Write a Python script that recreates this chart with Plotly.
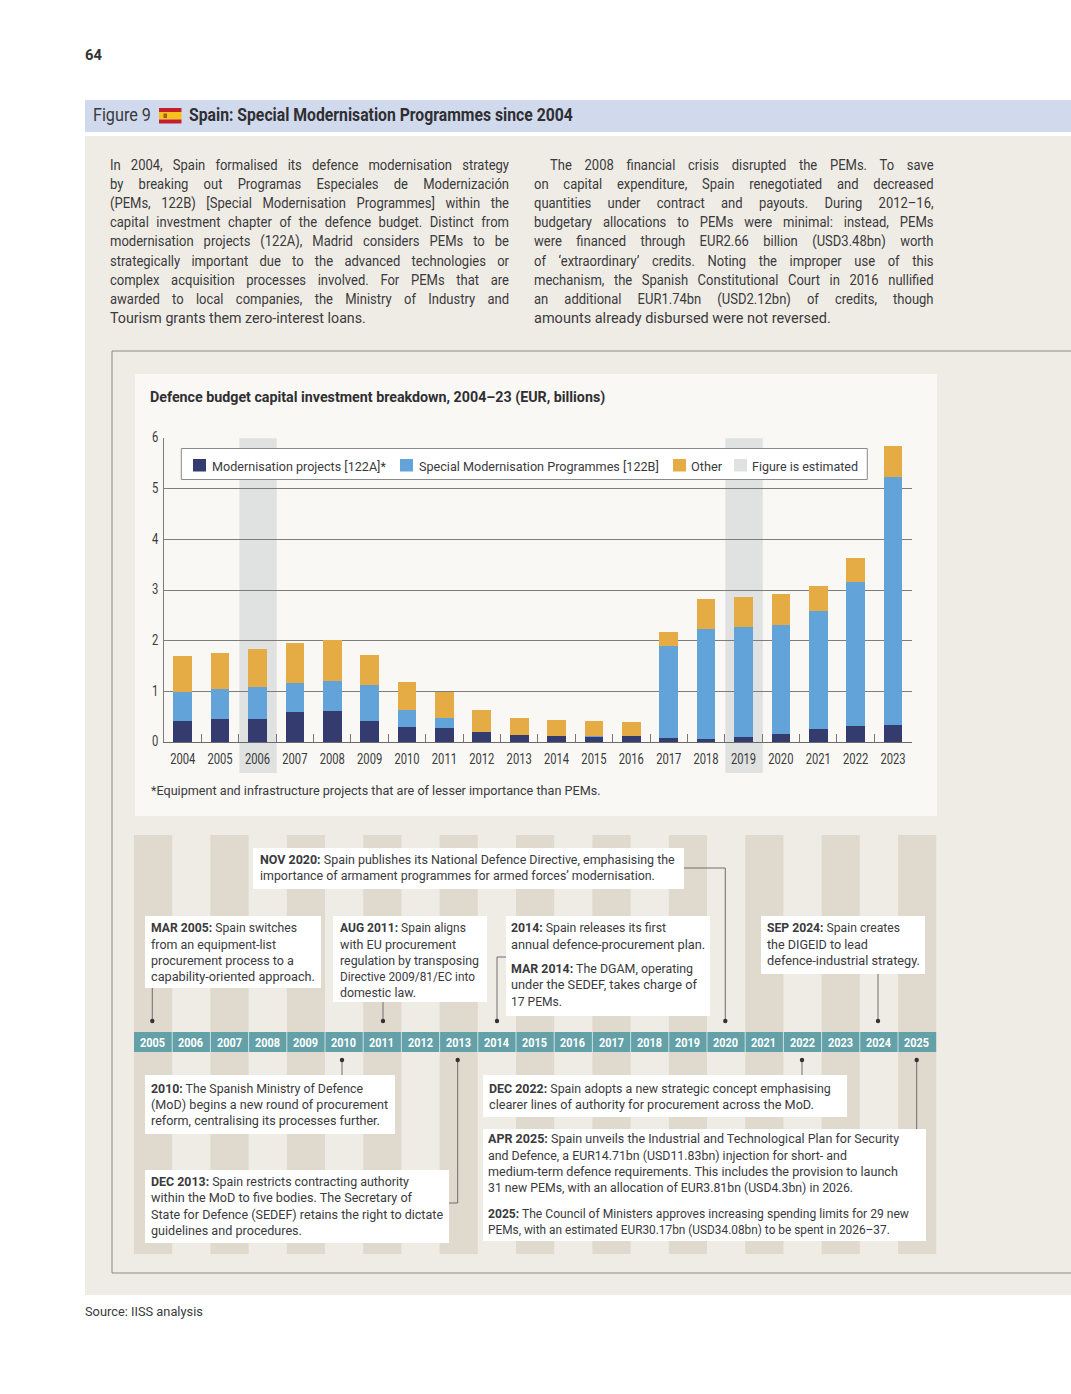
import json
import plotly.graph_objects as go

W, H = 1071, 1394
FONT = "Roboto"
TXT = "#3a3a3c"

# ---- chart data (EUR bn) ----
years = [str(y) for y in range(2004, 2024)]
modernisation = [.42,.46,.46,.60,.62,.42,.30,.28,.20,.14,.125,.105,.125,.085,.065,.105,.165,.26,.32,.34]
special = [.57,.59,.63,.57,.59,.71,.34,.20,.01,.01,.005,.02,.005,1.815,2.175,2.175,2.155,2.33,2.84,4.90]
other = [.71,.71,.75,.79,.81,.59,.55,.52,.43,.33,.31,.295,.27,.28,.59,.59,.61,.50,.48,.61]
estimated_years = ["2006", "2019"]
timeline_years = [str(y) for y in range(2005, 2026)]

title_text = "Spain: Special Modernisation Programmes since 2004"
chart_title = "Defence budget capital investment breakdown, 2004–23 (EUR, billions)"
footnote = "*Equipment and infrastructure projects that are of lesser importance than PEMs."
source = "Source: IISS analysis"
legend_labels = ["Modernisation projects [122A]*", "Special Modernisation Programmes [122B]", "Other", "Figure is estimated"]

para_left = [
 "In 2004, Spain formalised its defence modernisation strategy",
 "by breaking out Programas Especiales de Modernización",
 "(PEMs, 122B) [Special Modernisation Programmes] within the",
 "capital investment chapter of the defence budget. Distinct from",
 "modernisation projects (122A), Madrid considers PEMs to be",
 "strategically important due to the advanced technologies or",
 "complex acquisition processes involved. For PEMs that are",
 "awarded to local companies, the Ministry of Industry and",
 "Tourism grants them zero-interest loans."]
para_right = [
 "The 2008 financial crisis disrupted the PEMs. To save",
 "on capital expenditure, Spain renegotiated and decreased",
 "quantities under contract and payouts. During 2012–16,",
 "budgetary allocations to PEMs were minimal: instead, PEMs",
 "were financed through EUR2.66 billion (USD3.48bn) worth",
 "of ‘extraordinary’ credits. Noting the improper use of this",
 "mechanism, the Spanish Constitutional Court in 2016 nullified",
 "an additional EUR1.74bn (USD2.12bn) of credits, though",
 "amounts already disbursed were not reversed."]

# (x-left, [(text, y-centre, x-right)...])
events = [
 (260, [("<b>NOV 2020:</b> Spain publishes its National Defence Directive, emphasising the", 859, 675),
        ("importance of armament programmes for armed forces’ modernisation.", 875.7, 655)]),
 (151, [("<b>MAR 2005:</b> Spain switches", 927.7, 297), ("from an equipment-list", 944, 276),
        ("procurement process to a", 960.3, 294), ("capability-oriented approach.", 976.7, 315)]),
 (340, [("<b>AUG 2011:</b> Spain aligns", 927.7, 466), ("with EU procurement", 944, 456),
        ("regulation by transposing", 960.3, 479), ("Directive 2009/81/EC into", 976.7, 475), ("domestic law.", 993, 416)]),
 (511, [("<b>2014:</b> Spain releases its first", 927.7, 666), ("annual defence-procurement plan.", 944, 705),
        ("<b>MAR 2014:</b> The DGAM, operating", 968.3, 693), ("under the SEDEF, takes charge of", 984.8, 697), ("17 PEMs.", 1001.3, 562)]),
 (767, [("<b>SEP 2024:</b> Spain creates", 927.7, 900), ("the DIGEID to lead", 944, 868), ("defence-industrial strategy.", 960.3, 920)]),
 (151, [("<b>2010:</b> The Spanish Ministry of Defence", 1088, 363), ("(MoD) begins a new round of procurement", 1104.3, 388),
        ("reform, centralising its processes further.", 1120.7, 380)]),
 (151, [("<b>DEC 2013:</b> Spain restricts contracting authority", 1181, 409), ("within the MoD to five bodies. The Secretary of", 1197.7, 412),
        ("State for Defence (SEDEF) retains the right to dictate", 1214, 443), ("guidelines and procedures.", 1230.3, 302)]),
 (489, [("<b>DEC 2022:</b> Spain adopts a new strategic concept emphasising", 1088, 831),
        ("clearer lines of authority for procurement across the MoD.", 1104.7, 814)]),
 (488, [("<b>APR 2025:</b> Spain unveils the Industrial and Technological Plan for Security", 1138, 899),
        ("and Defence, a EUR14.71bn (USD11.83bn) injection for short- and", 1155, 847),
        ("medium-term defence requirements. This includes the provision to launch", 1171, 898),
        ("31 new PEMs, with an allocation of EUR3.81bn (USD4.3bn) in 2026.", 1187.7, 853),
        ("<b>2025:</b> The Council of Ministers approves increasing spending limits for 29 new", 1213, 909),
        ("PEMs, with an estimated EUR30.17bn (USD34.08bn) to be spent in 2026–37.", 1229.7, 890)]),
]

def X(p): return p / W
def Y(p): return 1 - p / H

shapes, annots, fits = [], [], {}

def rect(x0, y0, x1, y1, fill, line=None, lw=1, layer="below"):
    shapes.append(dict(type="rect", xref="paper", yref="paper", x0=X(x0), x1=X(x1), y0=Y(y0), y1=Y(y1),
                       fillcolor=fill, layer=layer,
                       line=dict(color=line, width=lw) if line else dict(width=0)))

def seg(x0, y0, x1, y1, color="#6e6e6e", lw=1, layer="above"):
    shapes.append(dict(type="line", xref="paper", yref="paper", x0=X(x0), x1=X(x1), y0=Y(y0), y1=Y(y1),
                       layer=layer, line=dict(color=color, width=lw)))

def dot(x, y, r=2.2):
    shapes.append(dict(type="circle", xref="paper", yref="paper", x0=X(x-r), x1=X(x+r), y0=Y(y-r), y1=Y(y+r),
                       fillcolor="#333333", line=dict(width=0), layer="above"))

def text(s, x, y, size=13, color=TXT, anchor="left", right=None, mode="scale", font=FONT):
    shift = 1 if anchor == "left" else 0
    annots.append(dict(text=s, x=X(x - shift), y=Y(y), xref="paper", yref="paper", xanchor=anchor, yanchor="middle",
                       align=anchor, showarrow=False, borderpad=0, font=dict(family=font, size=size, color=color)))
    if right is not None:
        fits[len(annots) - 1] = [right - x, mode]

# --- page panels
rect(85, 136, W, 1295, "#efece5")
rect(85, 100, W, 132, "#d0daec")
rect(135, 374, 937, 816, "#f9f8f4")
# outer frame
seg(112, 351, W, 351, "#8a8a86", 1, "below")
seg(112, 351, 112, 1273, "#8a8a86", 1, "below")
seg(112, 1273, W, 1273, "#8a8a86", 1, "below")

# flag
rect(159, 108, 181.5, 112, "#c4202c")
rect(159, 112, 181.5, 119.5, "#f6c21c")
rect(159, 119.5, 181.5, 123.5, "#c4202c")
rect(163.5, 113.5, 167, 118, "#b0552a")

# estimated bands
slot = (911.7 - 164) / len(years)
for ey in estimated_years:
    i = years.index(ey)
    rect(164 + slot * i + 0.6, 438.3, 164 + slot * (i + 1) + 0.6, 773, "#e0e2e1")

# timeline stripes and year bar
cell = 38.2
for i, yr in enumerate(timeline_years):
    if i % 2 == 0:
        rect(134 + cell * i, 835, 134 + cell * (i + 1), 1254, "#e0dace")
rect(134, 1032, 134 + cell * len(timeline_years), 1052, "#64a0a8", layer="above")
for i, yr in enumerate(timeline_years):
    if i:
        seg(134 + cell * i, 1032, 134 + cell * i, 1052, "#cfe0e2", 1)
    cx = 134 + cell * (i + .5) - 0.4
    text("<b>%s</b>" % yr, cx, 1042, size=13.5, color="#ffffff", anchor="center", right=cx + 25)

# event boxes
for b in [(253,848,684,889),(145,916,321,988),(333,916,487,1002),(506,916,710,1016),(761,916,925,974),
          (145,1075,395,1134),(145,1170,449,1243),(483,1075,847,1117),(483,1129,926,1241)]:
    rect(b[0], b[1], b[2], b[3], "#ffffff", layer="above")

# connectors
for x0, y0, x1, y1 in [(152.3,988,152.3,1021),(383,1002,383,1021),(497,957,497,1021),(497,957,506,957),
                       (725.3,868,725.3,1021),(684,868,725.3,868),(878,974,878,1021),(342,1060,342,1075),
                       (457.7,1060,457.7,1203),(449,1203,457.7,1203),(802,1060,802,1075),(916.7,1060,916.7,1129)]:
    seg(x0, y0, x1, y1)
for x, y in [(152.3,1021),(383,1021),(497,1021),(725.3,1021),(878,1021),(342,1060),(457.7,1060),(802,1060),(916.7,1060)]:
    dot(x, y)

# legend
rect(181.3, 448.5, 867.3, 479.5, "#ffffff", "#8a8a8a", 1, "above")
leg_x = [(193, 212, 386), (400, 419, 659), (673, 691, 722), (734, 752, 858)]
leg_c = ["#343b6e", "#62a3d9", "#e5ac46", "#e0e2e1"]
for (sx, tx, rx), c, lab in zip(leg_x, leg_c, legend_labels):
    rect(sx, 459, sx + 13, 471.5, c, layer="above")
    text(lab, tx, 465.5, size=13.5, right=rx)

# header and paragraphs
text("<b>64</b>", 85, 55, size=14, color="#333333", right=102)
text("Figure 9", 93, 114.5, size=18, right=151)
text("<b>%s</b>" % title_text, 189, 114.5, size=18, color="#2f2f33", right=573)
para_y = [165, 184, 203, 222.2, 241.4, 260.6, 280, 299, 318.2]
for i, (l, y) in enumerate(zip(para_left, para_y)):
    if i < 8:
        text(l, 110, y, size=14, right=509.5, mode="word")
    else:
        text(l, 110, y, size=14, right=366)
for i, (l, y) in enumerate(zip(para_right, para_y)):
    if i == 0:
        text(l, 550, y, size=14, right=934, mode="word")
    elif i < 8:
        text(l, 534, y, size=14, right=934, mode="word")
    else:
        text(l, 534, y, size=14, right=831)
text("<b>%s</b>" % chart_title, 149.5, 397, size=15, color="#2f2f33", right=605)
text(footnote, 151, 790, size=13.5, right=601)
text(source, 85, 1311, size=13.5, right=203)

for left, lines in events:
    for s, y, right in lines:
        text(s, left, y, size=13.2, right=right)

fig = go.Figure()
for name, vals, col in [("Modernisation projects [122A]*", modernisation, leg_c[0]),
                        ("Special Modernisation Programmes [122B]", special, leg_c[1]),
                        ("Other", other, leg_c[2])]:
    fig.add_bar(x=years, y=vals, name=name, width=0.5, marker=dict(color=col, line=dict(width=0)))

fig.update_layout(
    width=W, height=H, autosize=False, margin=dict(l=0, r=0, t=0, b=0, autoexpand=False), barmode="stack",
    paper_bgcolor="#ffffff", plot_bgcolor="rgba(0,0,0,0)", showlegend=False,
    font=dict(family=FONT, color=TXT), shapes=shapes, annotations=annots,
    xaxis=dict(domain=[X(164), X(911.7)], type="category", tickson="boundaries", ticks="inside", ticklen=8,
               tickcolor="#777777", tickwidth=1, showline=True, linecolor="#6a6a6a", linewidth=1, tickangle=0,
               showgrid=False, tickfont=dict(size=14, color=TXT), ticklabelstandoff=7, anchor="y"),
    yaxis=dict(domain=[Y(742.3), Y(438.3)], range=[0, 6], tickvals=[0,1,2,3,4,5,6], showgrid=True,
               gridcolor="#7d7d7d", gridwidth=1, showline=True, linecolor="#7d7d7d", zeroline=False,
               ticks="", tickfont=dict(size=14, color=TXT), ticklabelstandoff=2, anchor="x"),
)

post = """
document.body.style.margin='0';
document.documentElement.style.overflow='hidden';
var fits = %s;
var BASE = 0.93;
function squeeze(t, s, dy){
  var x = parseFloat(t.getAttribute('x')) || 0;
  var old = t.getAttribute('transform') || '';
  t.setAttribute('transform', old + ' translate(' + x + ',' + (dy||0) + ') scale(' + s + ',1) translate(' + (-x) + ',0)');
}
document.querySelectorAll('.annotation').forEach(function(a){
  var f = fits[a.getAttribute('data-index')];
  if(!f) return;
  var t = a.querySelector('text');
  var sp = (t.textContent.match(/ /g)||[]).length;
  var len = t.getComputedTextLength();
  if(f[1]==='word' && sp>0){
    var s = Math.min(BASE, f[0]/len);
    t.style.wordSpacing = ((f[0]/s - len)/sp) + 'px';
    squeeze(t, s);
  } else {
    squeeze(t, f[0]/len);
  }
});
document.querySelectorAll('.xtick text').forEach(function(t){ squeeze(t, 0.8, -3); });
document.querySelectorAll('.ytick text').forEach(function(t){ squeeze(t, 0.8, -1); });
""" % json.dumps(fits)

fig.write_html("out.html", post_script=post, config={"displayModeBar": False})
